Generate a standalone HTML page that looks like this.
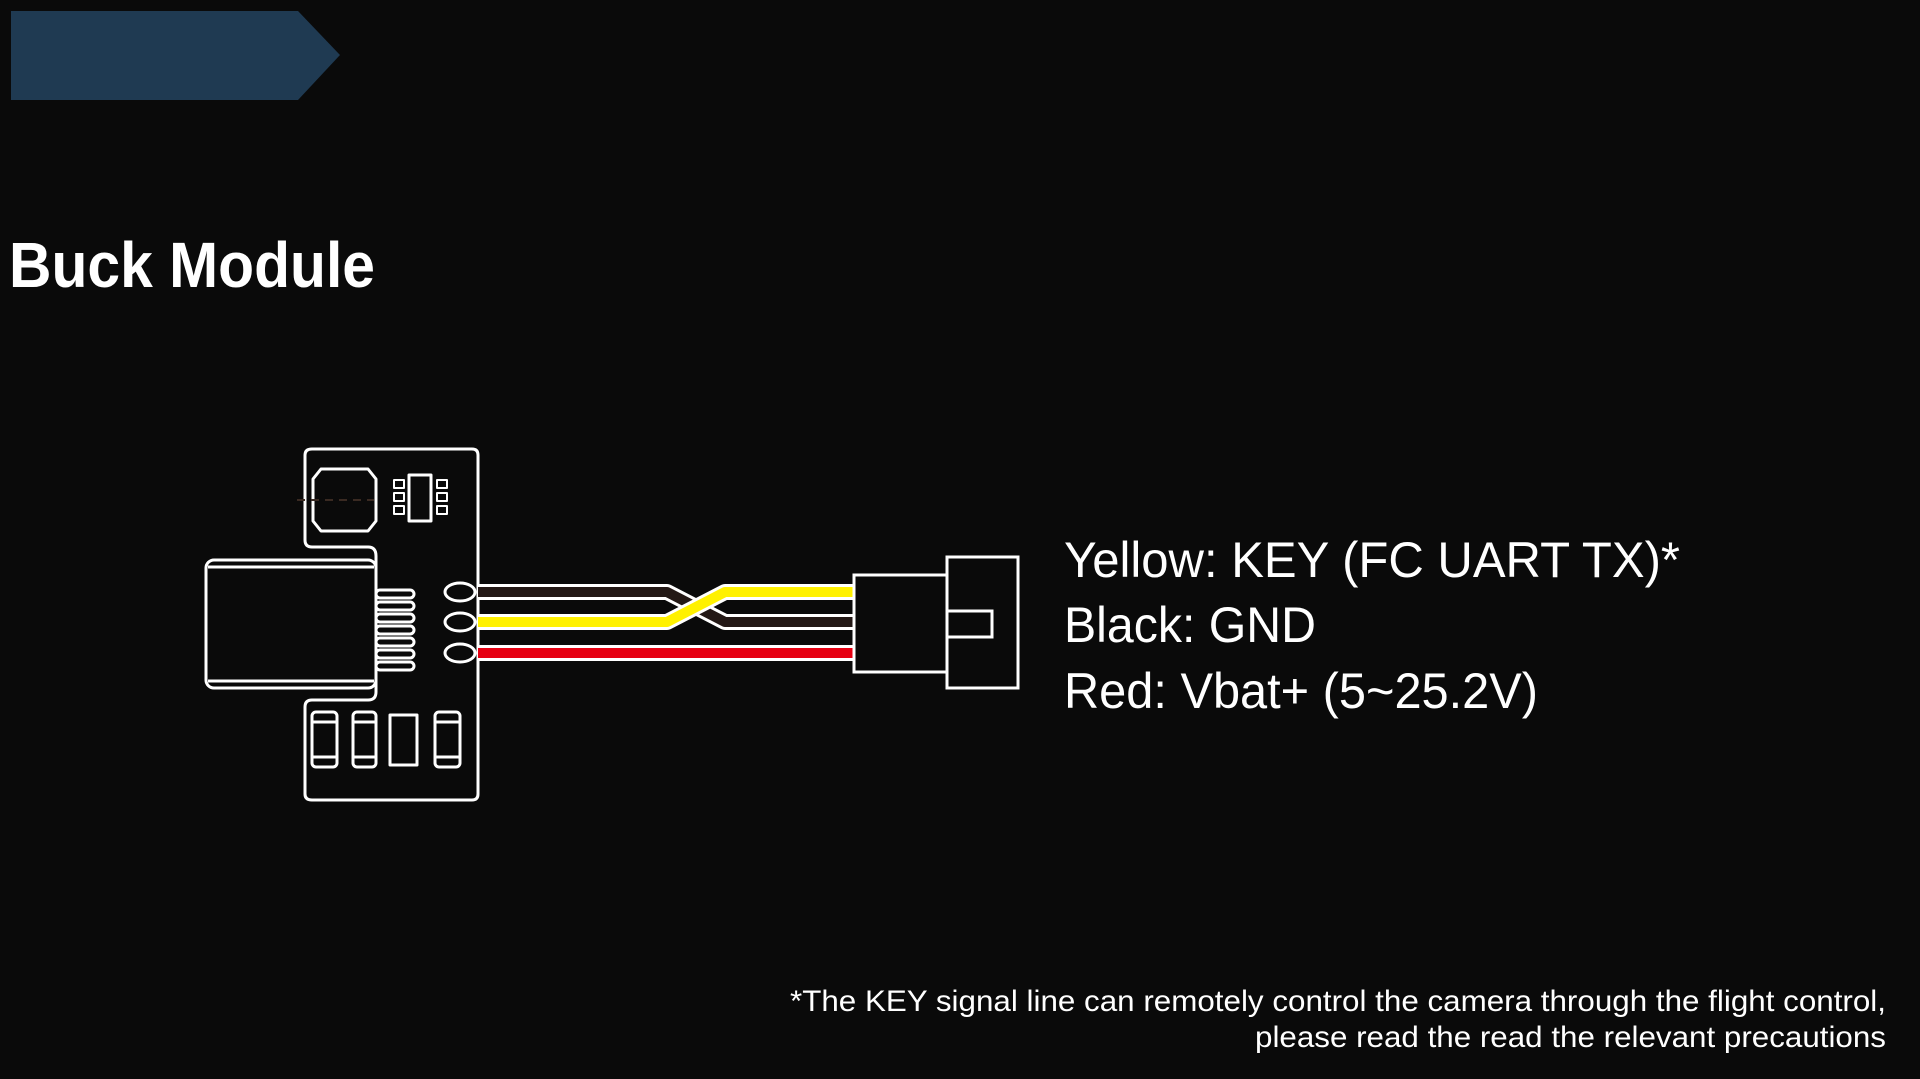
<!DOCTYPE html>
<html><head><meta charset="utf-8"><style>
html,body{margin:0;padding:0;background:#0a0a0a;}
svg{display:block}
</style></head><body>
<svg width="1920" height="1079" viewBox="0 0 1920 1079" xmlns="http://www.w3.org/2000/svg">
<rect width="1920" height="1079" fill="#0a0a0a"/>
<polygon points="11,11 298,11 340,55 298,100 11,100" fill="#1f3a52"/>
<text x="9" y="287" fill="#fff" font-family="Liberation Sans, sans-serif" font-weight="bold" font-size="64" textLength="366" lengthAdjust="spacingAndGlyphs">Buck Module</text>

<g fill="none" stroke="#fff" stroke-width="3" stroke-linejoin="round">
<path d="M312,449 H472 Q478,449 478,455 V794 Q478,800 472,800 H312 Q305,800 305,794 V707 Q305,700 312,700 H368 Q376,700 376,692 V556 Q376,547 368,547 H312 Q305,547 305,540 V455 Q305,449 312,449 Z"/>
<rect x="206" y="560" width="170" height="128" rx="8"/>
<line x1="208" y1="567" x2="374" y2="567"/>
<line x1="208" y1="681" x2="374" y2="681"/>
<rect x="376" y="590" width="38" height="8" rx="4"/>
<rect x="376" y="602" width="38" height="8" rx="4"/>
<rect x="376" y="614" width="38" height="8" rx="4"/>
<rect x="376" y="626" width="38" height="8" rx="4"/>
<rect x="376" y="638" width="38" height="8" rx="4"/>
<rect x="376" y="650" width="38" height="8" rx="4"/>
<rect x="376" y="662" width="38" height="8" rx="4"/>
<ellipse cx="460" cy="592" rx="15" ry="9"/>
<ellipse cx="460" cy="622" rx="15" ry="9"/>
<ellipse cx="460" cy="653" rx="15" ry="9"/>
<path d="M321,469 H368 L376,479 V521 L368,531 H321 L313,521 V479 Z"/>
<rect x="409" y="475" width="22" height="46"/>
<rect x="394" y="480" width="10" height="8" stroke-width="2"/>
<rect x="394" y="493" width="10" height="8" stroke-width="2"/>
<rect x="394" y="506" width="10" height="8" stroke-width="2"/>
<rect x="437" y="480" width="10" height="8" stroke-width="2"/>
<rect x="437" y="493" width="10" height="8" stroke-width="2"/>
<rect x="437" y="506" width="10" height="8" stroke-width="2"/>
<rect x="312" y="712" width="25" height="55" rx="4"/>
<line x1="312" y1="722" x2="337" y2="722"/><line x1="312" y1="757" x2="337" y2="757"/>
<rect x="353" y="712" width="23" height="55" rx="4"/>
<line x1="353" y1="722" x2="376" y2="722"/><line x1="353" y1="757" x2="376" y2="757"/>
<rect x="390" y="715" width="27" height="50"/>
<rect x="435" y="712" width="25" height="55" rx="4"/>
<line x1="435" y1="722" x2="460" y2="722"/><line x1="435" y1="757" x2="460" y2="757"/>
</g>
<line x1="297" y1="500" x2="374" y2="500" stroke="#3a2a22" stroke-width="2" stroke-dasharray="8,6"/>

<g fill="none" stroke-linejoin="round">
<path d="M478,592 H667 L725,622 H854" stroke="#fff" stroke-width="16"/>
<path d="M478,592 H667 L725,622 H854" stroke="#231815" stroke-width="10"/>
<path d="M478,622 H667 L725,592 H854" stroke="#fff" stroke-width="16"/>
<path d="M478,622 H667 L725,592 H854" stroke="#fff100" stroke-width="10"/>
<path d="M478,653 H854" stroke="#fff" stroke-width="16"/>
<path d="M478,653 H854" stroke="#e60012" stroke-width="10"/>
</g>
<g fill="#0a0a0a" stroke="#fff" stroke-width="3">
<rect x="854" y="575" width="93" height="97"/>
<rect x="947" y="557" width="71" height="131"/>
<rect x="947" y="611" width="45" height="26"/>
</g>

<g fill="#fff" font-family="Liberation Sans, sans-serif" font-size="50">
<text x="1064" y="577" textLength="616" lengthAdjust="spacingAndGlyphs">Yellow: KEY (FC UART TX)*</text>
<text x="1064" y="642" textLength="252" lengthAdjust="spacingAndGlyphs">Black: GND</text>
<text x="1064" y="708" textLength="474" lengthAdjust="spacingAndGlyphs">Red: Vbat+ (5~25.2V)</text>
</g>
<g fill="#fff" font-family="Liberation Sans, sans-serif" font-size="30" text-anchor="end">
<text x="1886" y="1011" textLength="1096" lengthAdjust="spacingAndGlyphs">*The KEY signal line can remotely control the camera through the flight control,</text>
<text x="1886" y="1047" textLength="631" lengthAdjust="spacingAndGlyphs">please read the read the relevant precautions</text>
</g>
</svg>
</body></html>
